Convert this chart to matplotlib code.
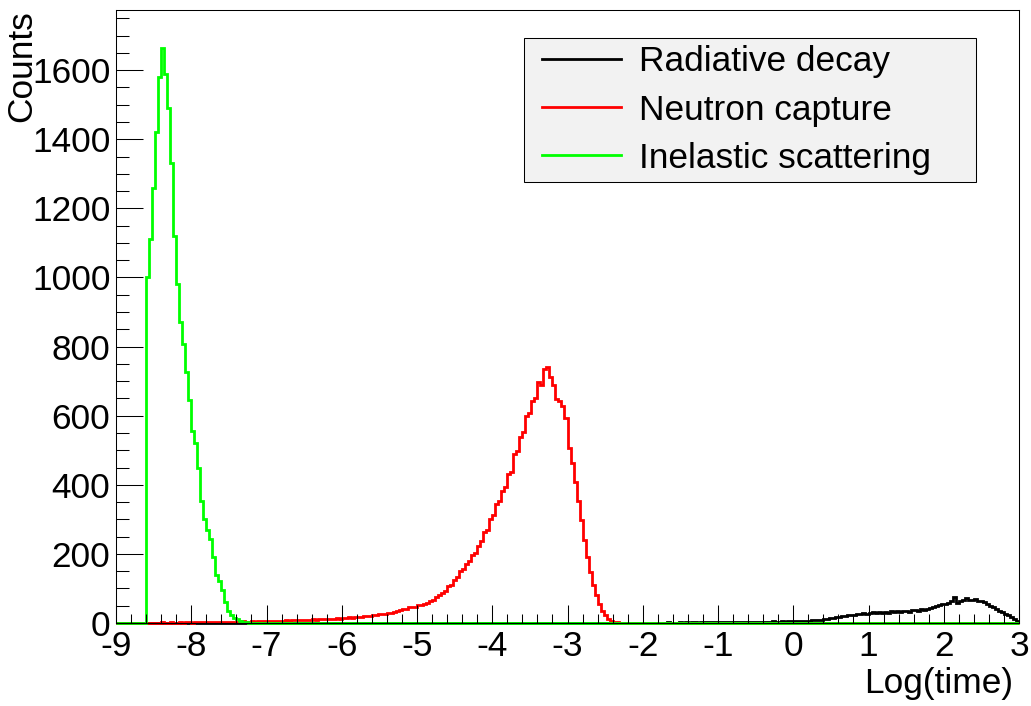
import numpy as np
import matplotlib
matplotlib.use("Agg")
import matplotlib.pyplot as plt
from matplotlib.ticker import MultipleLocator
from matplotlib.lines import Line2D

# ---------------- data ----------------
x_min, x_max, bin_width = -9.0, 3.0, 0.04

series_names = ["Radiative decay", "Neutron capture", "Inelastic scattering"]
series_colors = ["#000000", "#ff0000", "#00ff00"]

# black: radiative decay, first bin starts at -2.00
radiative_start = -2.00
radiative_counts = [
    1, 0, 1, 1, 0, 1, 1, 1, 2, 1, 1, 1, 2, 1, 2, 1, 2, 2, 1, 2, 2, 2, 3, 2, 2,
    2, 3, 2, 3, 3, 2, 3, 3, 4, 3, 3, 4, 3, 4, 4, 3, 4, 4, 5, 4, 4, 5, 4, 5, 5,
    5, 5, 6, 6, 7, 7, 8, 9, 9, 10, 11, 13, 15, 14, 17, 18, 19, 21, 23, 22, 24, 26, 25, 28, 27,
    29, 31, 28, 32, 30, 33, 29, 34, 31, 35, 32, 34, 36, 33, 37, 39, 35, 40, 37, 41, 43, 47, 49, 53, 56,
    55, 59, 63, 76, 58, 64, 67, 71, 68, 66, 70, 64, 63, 60, 56, 49, 45, 41, 36, 31, 27, 22, 18, 12, 7,
]

# red: neutron capture, first bin starts at -8.60
capture_start = -8.60
capture_counts = [
    1, 0, 1, 1, 1, 2, 1, 1, 2, 1, 1, 2, 1, 2, 2, 1, 2, 2, 3, 2, 2, 3, 2, 3, 3,
    3, 2, 3, 4, 3, 3, 4, 5, 4, 4,
    5, 4, 5, 6, 5, 6, 7, 6, 6, 7,
    7, 8, 7, 8, 9, 8, 9, 10, 9, 10,
    11, 10, 11, 12, 11, 13, 12, 13, 14, 13,
    14, 15, 16, 15, 17, 18, 17, 19, 20, 21,
    23, 22, 25, 27, 26, 29, 30, 32, 35, 37,
    40, 41, 45, 47, 46, 51, 53, 56, 58, 63,
    68, 75, 80, 88, 94, 106, 110, 124, 134, 150,
    157, 172, 180, 196, 203, 224, 236, 262, 268, 300,
    312, 345, 352, 382, 395, 432, 438, 490, 498, 538,
    552, 600, 608, 642, 652, 698, 688, 735, 742, 712,
    688, 648, 642, 628, 592, 505, 462, 408, 352, 298,
    240, 190, 148, 110, 80, 55, 36, 22, 13, 7,
    4, 2, 1, 1, 0, 1, 0, 0, 0, 0,
]

# green: inelastic scattering, first bin starts at -8.60
inelastic_start = -8.60
inelastic_counts = [
    1000, 1110, 1260, 1420, 1580, 1665, 1590, 1490, 1330, 1120,
    980, 870, 807, 725, 646, 555, 520, 450, 354, 300,
    270, 243, 190, 140, 122, 95, 60, 35, 22, 15,
    11, 7, 4, 2, 1,
]

x_ticks = list(range(-9, 4))
y_ticks = list(range(0, 1601, 200))
x_label = "Log(time)"
y_label = "Counts"
y_max = 1774

# ---------------- build histograms ----------------
n_bins = int(round((x_max - x_min) / bin_width))
edges = np.linspace(x_min, x_max, n_bins + 1)


def full_hist(start, counts):
    h = np.zeros(n_bins)
    i0 = int(round((start - x_min) / bin_width))
    h[i0:i0 + len(counts)] = counts
    return h


hists = [
    full_hist(radiative_start, radiative_counts),
    full_hist(capture_start, capture_counts),
    full_hist(inelastic_start, inelastic_counts),
]

# ---------------- plot ----------------
plt.rcParams["font.family"] = ["Liberation Sans", "DejaVu Sans"]
plt.rcParams["axes.unicode_minus"] = False
fs = 25.4
lw = 2.0

W, H = 1031, 706
fig = plt.figure(figsize=(W / 100, H / 100), dpi=100)
ax = fig.add_axes([116 / W, 83 / H, 903 / W, 613 / H])

for h, c, name in zip(hists, series_colors, series_names):
    ax.stairs(h, edges, color=c, linewidth=lw, baseline=None,
              clip_on=False, label=name)

ax.set_xlim(x_min, x_max)
ax.set_ylim(0, y_max)
ax.set_xticks(x_ticks)
ax.set_yticks(y_ticks)
ax.xaxis.set_minor_locator(MultipleLocator(0.2))
ax.yaxis.set_minor_locator(MultipleLocator(50))

ax.tick_params(which="both", direction="in", top=False, right=False,
               width=0.75, labelsize=fs, colors="black")
ax.xaxis.set_tick_params(which="major", length=13, pad=5)
ax.xaxis.set_tick_params(which="minor", length=6.5)
ax.yaxis.set_tick_params(which="major", length=19.4, pad=4)
ax.yaxis.set_tick_params(which="minor", length=9.7)
for s in ax.spines.values():
    s.set_linewidth(0.75)

ax.set_xlabel(x_label, fontsize=fs, loc="right")
ax.xaxis.set_label_coords((1013 - 116) / 903, (623 - 684) / 613)
ax.xaxis.label.set_va("center")
ax.set_ylabel(y_label, fontsize=fs, loc="top")
ax.yaxis.set_label_coords((22 - 116) / 903, (623 - 10) / 613)
ax.yaxis.label.set_va("center")

leg_handles = [Line2D([0], [0], color=c, linewidth=lw) for c in series_colors]
leg = ax.legend(leg_handles, series_names, fontsize=fs,
                loc="upper left",
                bbox_to_anchor=((524 - 116) / 903, (623 - 183) / 613,
                                (976 - 524) / 903, (183 - 38) / 613),
                mode="expand", borderaxespad=0, borderpad=0.21,
                labelspacing=0.43, handlelength=2.83, handletextpad=0.21,
                numpoints=2, fancybox=False, framealpha=1,
                facecolor="#f2f2f2", edgecolor="black")
leg.get_frame().set_linewidth(0.75)

fig.savefig("out.png", dpi=100)
